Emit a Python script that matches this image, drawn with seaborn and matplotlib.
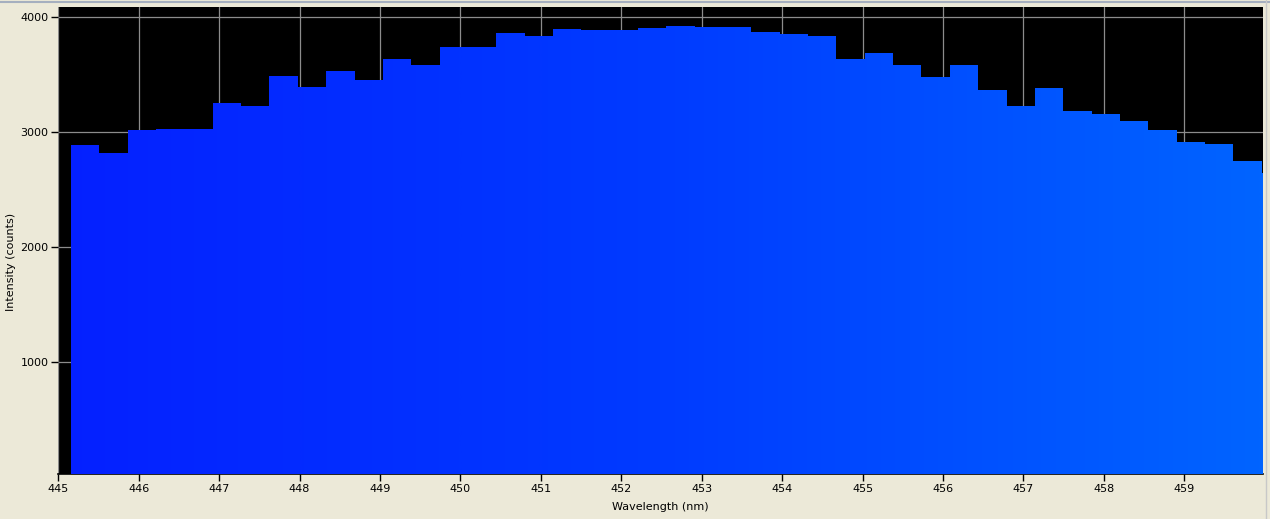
import numpy as np
import pandas as pd
import matplotlib
matplotlib.use("Agg")
import matplotlib.pyplot as plt
import seaborn as sns
from matplotlib.colors import LinearSegmentedColormap
from matplotlib.path import Path
from matplotlib.patches import PathPatch
from matplotlib.lines import Line2D

# ---- data ----
bin_start = 445.158      # nm, left edge of first bin
bin_width = 0.3526       # nm
intensity = [2890, 2820, 3020, 3031, 3031, 3255, 3229, 3490, 3397, 3536,
             3455, 3637, 3585, 3742, 3742, 3863, 3840, 3896, 3892, 3890,
             3904, 3924, 3916, 3916, 3872, 3857, 3840, 3637, 3690, 3585,
             3481, 3585, 3368, 3229, 3385, 3185, 3159, 3098, 3020, 2916,
             2898, 2750, 2646]
x_ticks = list(range(445, 460))
y_ticks = [1000, 2000, 3000, 4000]
x_label = "Wavelength (nm)"
y_label = "Intensity (counts)"

n = len(intensity)
edges = bin_start + bin_width * np.arange(n + 1)
centers = (edges[:-1] + edges[1:]) / 2
df = pd.DataFrame({"wavelength": centers, "intensity": np.array(intensity, float)})

# ---- style ----
sns.set_style("dark")
plt.rcParams["font.family"] = ["DejaVu Sans"]
BG = "#ECE9D8"

fig = plt.figure(figsize=(12.7, 5.19), dpi=100, facecolor=BG)
ax = fig.add_axes([58.3 / 1270, 1 - 474.3 / 519, (1263 - 58.3) / 1270, (474.3 - 6.7) / 519])
ax.set_facecolor("black")

xmin, xmax = 445.0, 459.98
ymin, ymax = 26, 4092

cmap = LinearSegmentedColormap.from_list("spec", ["#0520FF", "#003BFF", "#0064FF"])

sns.histplot(data=df, x="wavelength", weights="intensity",
             binwidth=bin_width, binrange=(edges[0], edges[-1] - bin_width * 0.01),
             element="bars", fill=True, ax=ax, linewidth=0, alpha=1,
             color="#0030FF", zorder=2)

# gradient fill clipped to the bars
rects = [p for p in ax.patches]
paths = [p.get_path().transformed(p.get_patch_transform()) for p in rects]
compound = Path.make_compound_path(*paths)
clip = PathPatch(compound, transform=ax.transData, facecolor="none", edgecolor="none")
ax.add_patch(clip)
grad = np.linspace(0, 1, 512).reshape(1, -1)
im = ax.imshow(grad, extent=[xmin, xmax, ymin, ymax], aspect="auto",
               cmap=cmap, origin="lower", zorder=3, interpolation="bilinear")
im.set_clip_path(clip)

ax.set_xlim(xmin, xmax)
ax.set_ylim(ymin, ymax)

ax.set_xticks(x_ticks)
ax.set_xticklabels([str(t) for t in x_ticks])
ax.set_yticks(y_ticks)
ax.set_yticklabels([str(t) for t in y_ticks])

ax.grid(True, color="#8C8C8C", linewidth=0.9, zorder=1)
ax.set_axisbelow(True)

ax.tick_params(axis="both", which="both", direction="out", length=5, width=1,
               color="black", labelsize=8, labelcolor="black", pad=2,
               bottom=True, left=True)
for s in ["top", "right", "left"]:
    ax.spines[s].set_visible(False)
ax.spines["bottom"].set_visible(True)
ax.spines["bottom"].set_color("black")
ax.spines["bottom"].set_linewidth(1.2)

ax.set_xlabel(x_label, fontsize=8, color="black", labelpad=6)
ax.set_ylabel(y_label, fontsize=8, color="black")
ax.yaxis.set_label_coords(-0.035, 0.454)

# window frame lines
fig.add_artist(Line2D([0, 1], [1 - 1.5 / 519] * 2, transform=fig.transFigure,
                      color="#A5AFBF", linewidth=1.5))
fig.add_artist(Line2D([1 - 4 / 1270] * 2, [0, 1], transform=fig.transFigure,
                      color="#C8C8C8", linewidth=1.0))

fig.savefig("out.png", dpi=100, facecolor=BG)
